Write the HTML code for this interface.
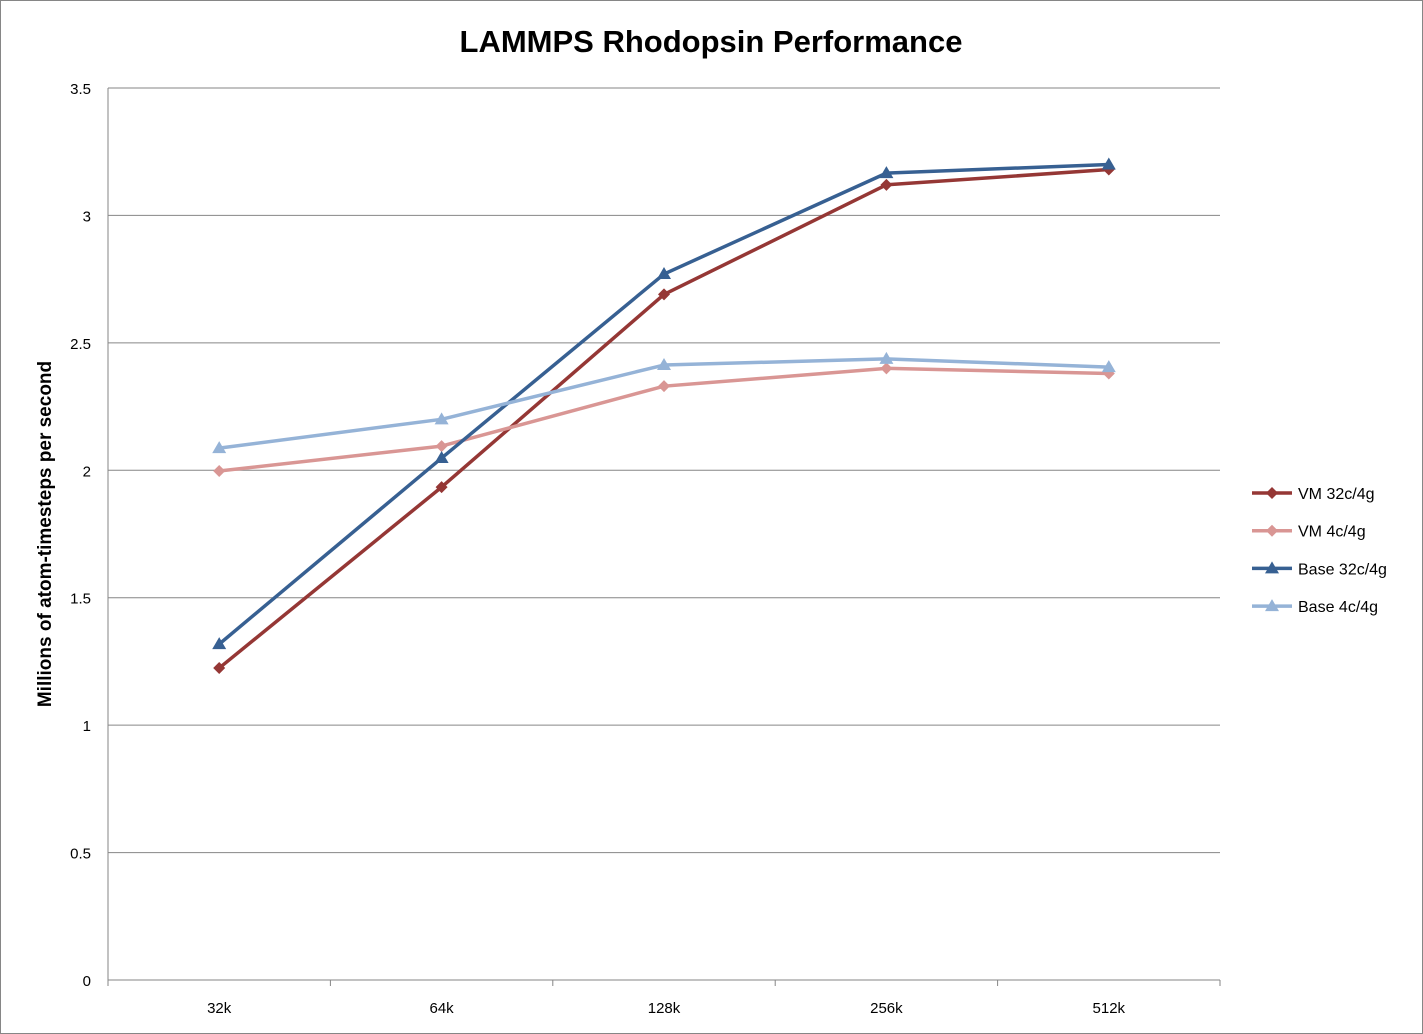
<!DOCTYPE html>
<html><head><meta charset="utf-8"><style>
html,body{margin:0;padding:0;background:#fff}
svg{display:block;font-family:"Liberation Sans",Calibri,sans-serif}
</style></head><body>
<svg id="chart" width="1423" height="1034">
<rect x="0.5" y="0.5" width="1422" height="1033" fill="#fff" stroke="#868686"/>
<text x="711" y="52" text-anchor="middle" font-size="31" font-weight="bold">LAMMPS Rhodopsin Performance</text>
<text transform="translate(51,534) rotate(-90)" text-anchor="middle" font-size="19" font-weight="bold">Millions of atom-timesteps per second</text>
<g id="grid"></g><g id="series"></g><g id="legend"></g>
</svg>
<script>
const categories=["32k","64k","128k","256k","512k"];
const yTicks=[0,0.5,1,1.5,2,2.5,3,3.5];
const seriesNames=["VM 32c/4g","VM 4c/4g","Base 32c/4g","Base 4c/4g"];
const vm32=[1.224,1.934,2.69,3.12,3.18];
const vm4=[1.997,2.095,2.33,2.40,2.38];
const base32=[1.318,2.048,2.77,3.166,3.20];
const base4=[2.087,2.20,2.413,2.437,2.405];
const colors=["#953735","#D99694","#376092","#95B3D7"];
const markers=["diamond","diamond","triangle","triangle"];
const NS="http://www.w3.org/2000/svg";
const L=108,R=1220,T=88,B=980;
const x=i=>L+(R-L)/categories.length*(i+0.5);
const y=v=>B-(v/3.5)*(B-T);
function mk(tag,attrs,parent){const e=document.createElementNS(NS,tag);for(const k in attrs)e.setAttribute(k,attrs[k]);parent.appendChild(e);return e;}
const grid=document.getElementById('grid');
yTicks.forEach(t=>{
 const l=mk('line',{x1:L,x2:R,y1:y(t),y2:y(t),stroke:t===0?'#868686':'#868686','stroke-width':1},grid);
 
 
 const tx=mk('text',{x:L-17,y:y(t)+6,'text-anchor':'end','font-size':15},grid);tx.textContent=String(t);
 
 
});
const ax=mk('line',{x1:L,x2:L,y1:T,y2:B,stroke:'#868686'},grid);


for(let i=0;i<=categories.length;i++){
 const xx=L+(R-L)/categories.length*i;
 const tk=mk('line',{x1:xx,x2:xx,y1:B,y2:B+6,stroke:'#868686'},grid);
 
 
}
categories.forEach((c,i)=>{
 const tx=mk('text',{x:x(i),y:B+33,'text-anchor':'middle','font-size':15},grid);tx.textContent=c;
 
 
});
function marker(type,cx,cy,col,parent){
 let p;
 if(type==='diamond')p=`${cx},${cy-6} ${cx+6},${cy} ${cx},${cy+6} ${cx-6},${cy}`;
 else p=`${cx},${cy-7} ${cx+7},${cy+5} ${cx-7},${cy+5}`;
 return mk('polygon',{points:p,fill:col},parent);
}
const sg=document.getElementById('series');
[vm32,vm4,base32,base4].forEach((vals,s)=>{
 const pl=mk('polyline',{points:vals.map((v,i)=>x(i)+','+y(v)).join(' '),fill:'none',stroke:colors[s],'stroke-width':3.5,'stroke-linejoin':'round'},sg);
 
 
 vals.forEach((v,i)=>{const m=marker(markers[s],x(i),y(v),colors[s],sg);
  
  });
});
const lg=document.getElementById('legend');
seriesNames.forEach((n,s)=>{
 const ly=493+s*37.7;
 const g=mk('g',{},lg);
 
 
 mk('line',{x1:1252,x2:1292,y1:ly,y2:ly,stroke:colors[s],'stroke-width':3.5},g);
 marker(markers[s],1272,ly,colors[s],g);
 const t=mk('text',{x:1298,y:ly+6,'font-size':16},g);t.textContent=n;
});
</script>
</body></html>
